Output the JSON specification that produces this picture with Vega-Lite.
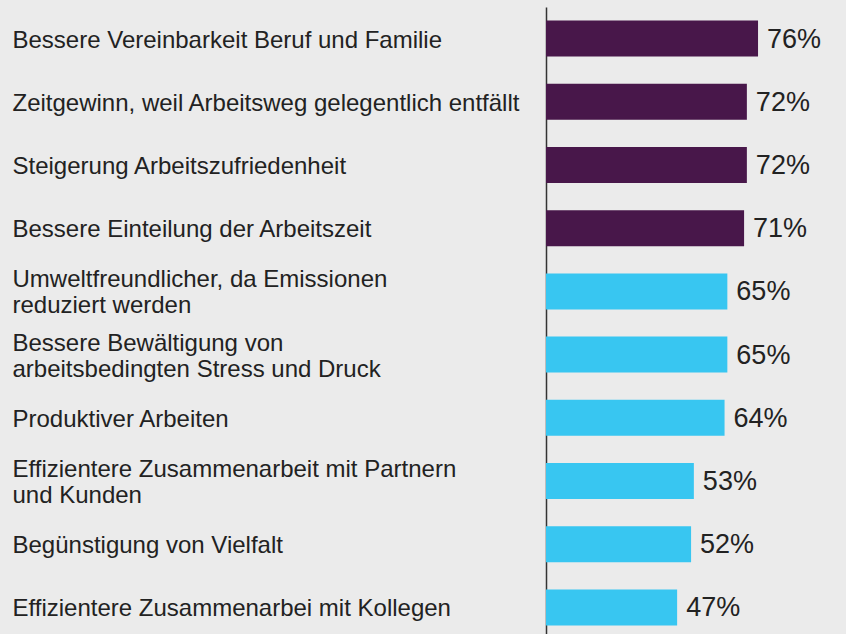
{
  "$schema": "https://vega.github.io/schema/vega-lite/v6.json",
  "autosize": "none",
  "padding": {"left": 546, "top": 7, "right": 0, "bottom": 0},
  "width": 300,
  "height": 632,
  "background": "#ebebeb",
  "config": {"view": {"stroke": null}, "font": "Liberation Sans"},
  "data": {
    "values": [
      {"item": "Bessere Vereinbarkeit Beruf und Familie", "share": 0.76, "group": "top"},
      {"item": "Zeitgewinn, weil Arbeitsweg gelegentlich entfällt", "share": 0.72, "group": "top"},
      {"item": "Steigerung Arbeitszufriedenheit", "share": 0.72, "group": "top"},
      {"item": "Bessere Einteilung der Arbeitszeit", "share": 0.71, "group": "top"},
      {"item": "Umweltfreundlicher, da Emissionen|reduziert werden", "share": 0.65, "group": "rest"},
      {"item": "Bessere Bewältigung von|arbeitsbedingten Stress und Druck", "share": 0.65, "group": "rest"},
      {"item": "Produktiver Arbeiten", "share": 0.64, "group": "rest"},
      {"item": "Effizientere Zusammenarbeit mit Partnern|und Kunden", "share": 0.53, "group": "rest"},
      {"item": "Begünstigung von Vielfalt", "share": 0.52, "group": "rest"},
      {"item": "Effizientere Zusammenarbei mit Kollegen", "share": 0.47, "group": "rest"}
    ]
  },
  "encoding": {
    "y": {
      "field": "item",
      "type": "nominal",
      "sort": null,
      "scale": {"paddingInner": 0.43, "paddingOuter": 0.215},
      "axis": {
        "title": null,
        "ticks": false,
        "tickSize": 0,
        "labelAlign": "left",
        "labelBaseline": "middle",
        "labelPadding": 534,
        "labelLimit": 0,
        "labelFontSize": 24,
        "labelLineHeight": 26,
        "labelColor": "#222222",
        "labelFont": "Liberation Sans",
        "labelOffset": {"expr": "indexof(datum.value, '|') >= 0 ? -11 : 2"},
        "labelExpr": "split(datum.label, '|')",
        "domainColor": "#333333",
        "domainWidth": 1.5
      }
    },
    "x": {
      "field": "share",
      "type": "quantitative",
      "scale": {"domain": [0, 1.0753], "nice": false, "zero": true},
      "axis": null
    }
  },
  "layer": [
    {
      "mark": {"type": "bar"},
      "encoding": {
        "color": {
          "field": "group",
          "type": "nominal",
          "scale": {"domain": ["top", "rest"], "range": ["#48174a", "#38c6f1"]},
          "legend": null
        }
      }
    },
    {
      "mark": {"type": "text", "align": "left", "baseline": "middle", "dx": 9, "dy": 1, "fontSize": 27, "color": "#222222", "font": "Liberation Sans"},
      "encoding": {
        "text": {"field": "share", "type": "quantitative", "format": ".0%"}
      }
    }
  ]
}
